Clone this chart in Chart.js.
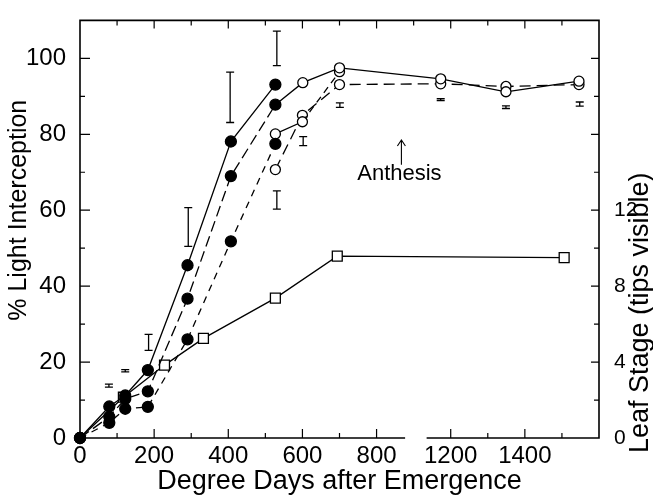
<!DOCTYPE html>
<html>
<head>
<meta charset="utf-8">
<script src="https://cdn.jsdelivr.net/npm/chart.js@4.4.1/dist/chart.umd.min.js"></script>
<style>
  body { margin: 0; background: #fff; }
</style>
</head>
<body>
<canvas id="chart" width="653" height="498"></canvas>
<script>
// degree days; the x axis is broken, values above 1000 are drawn 200 units to the left
const filledX = [0, 79, 122, 183, 290, 407, 527];
const solidFilled = [0, 8.3, 11.2, 17.9, 45.5, 78.1, 93.1];
const longDashFilled = [0, 5.6, 10.3, 12.3, 36.7, 69.0, 87.8];
const shortDashFilled = [0, 4.0, 7.7, 8.2, 26.0, 51.8, 77.5];

const openAX = [527, 601, 700, 1173, 1349, 1546];
const openA = [87.8, 93.6, 97.5, 94.6, 91.2, 94.0];
const openBX = [527, 600, 700];
const openB = [80.1, 83.3, 96.5];
const openCX = [527, 600, 700, 1173, 1349, 1546];
const openC = [70.7, 85.0, 93.1, 93.3, 92.6, 93.1];

// leaf stage, right axis
const leafX = [0, 117, 228, 333, 527, 694, 1506];
const leafStage = [0, 2.15, 3.84, 5.25, 7.37, 9.58, 9.5];

// error bars
const errX = [78, 122, 185, 292, 405, 531, 531, 602, 701, 1173, 1349, 1548];
const errLo = [13.4, 17.4, 23.1, 50.5, 83.1, 98.1, 60.3, 77.0, 87.1, 88.9, 86.8, 87.4];
const errHi = [14.2, 18.0, 27.3, 60.7, 96.4, 107.2, 65.1, 79.4, 88.3, 89.4, 87.5, 88.5];

const xTickLabels = ['0', '200', '400', '600', '800', '1200', '1400'];
const anthesisX = 867;

const FONT = 'Liberation Sans';
const toAxis = v => v > 1000 ? v - 200 : v;
const pts = (xs, ys) => xs.map((x, i) => ({ x: toAxis(x), y: ys[i] }));

function lineSet(data, opts) {
    return Object.assign({
        data: data,
        showLine: true,
        borderColor: '#000',
        borderWidth: 1.3,
        pointBorderColor: '#000',
        pointBorderWidth: 1.3,
        clip: false
    }, opts);
}

function vText(ctx, text, px, py, size) {
    ctx.save();
    ctx.font = size + 'px "' + FONT + '"';
    ctx.textAlign = 'center';
    ctx.textBaseline = 'middle';
    ctx.translate(px, py);
    ctx.rotate(-Math.PI / 2);
    ctx.fillText(text, 0, 0);
    ctx.restore();
}

const axisDeco = {
    id: 'axisDeco',
    afterDatasetsDraw(chart) {
        const { ctx, chartArea: a, scales: { x, y, y2 } } = chart;
        ctx.save();
        ctx.strokeStyle = '#000';
        ctx.fillStyle = '#000';
        ctx.lineWidth = 1.6;
        // frame, bottom axis broken between 800 and 1200
        ctx.beginPath();
        ctx.moveTo(a.left, a.bottom);
        ctx.lineTo(a.left, a.top);
        ctx.lineTo(a.right, a.top);
        ctx.lineTo(a.right, a.bottom);
        ctx.lineTo(x.getPixelForValue(935), a.bottom);
        ctx.moveTo(x.getPixelForValue(877), a.bottom);
        ctx.lineTo(a.left, a.bottom);
        ctx.stroke();

        // inward ticks
        ctx.lineWidth = 1.2;
        ctx.beginPath();
        for (let v = 100; v < 1400; v += 100) {
            const px = x.getPixelForValue(v);
            const big = v % 200 === 0;
            ctx.moveTo(px, a.top);
            ctx.lineTo(px, a.top + (big ? 8 : 5));
            if (v !== 900) {
                ctx.moveTo(px, a.bottom);
                ctx.lineTo(px, a.bottom - (big ? 9 : 5));
            }
        }
        for (let v = 10; v <= 100; v += 10) {
            const py = y.getPixelForValue(v);
            ctx.moveTo(a.left, py);
            ctx.lineTo(a.left + (v % 20 === 0 ? 10 : 5), py);
        }
        for (let v = 2; v <= 20; v += 2) {
            const py = y2.getPixelForValue(v);
            ctx.moveTo(a.right, py);
            ctx.lineTo(a.right - (v % 4 === 0 ? 8 : 5), py);
        }
        ctx.stroke();

        // error bars
        ctx.lineWidth = 1.3;
        ctx.beginPath();
        errX.forEach((ev, i) => {
            const px = x.getPixelForValue(toAxis(ev));
            const p1 = y.getPixelForValue(errLo[i]);
            const p2 = y.getPixelForValue(errHi[i]);
            ctx.moveTo(px, p1); ctx.lineTo(px, p2);
            ctx.moveTo(px - 4, p1); ctx.lineTo(px + 4, p1);
            ctx.moveTo(px - 4, p2); ctx.lineTo(px + 4, p2);
        });
        ctx.stroke();

        // anthesis marker
        const ax = x.getPixelForValue(anthesisX);
        const ay1 = y.getPixelForValue(72);
        const ay2 = y.getPixelForValue(78.5);
        ctx.lineWidth = 1.1;
        ctx.beginPath();
        ctx.moveTo(ax, ay1); ctx.lineTo(ax, ay2);
        ctx.moveTo(ax - 4, ay2 + 6); ctx.lineTo(ax, ay2); ctx.lineTo(ax + 4, ay2 + 6);
        ctx.stroke();
        ctx.font = '22px "' + FONT + '"';
        ctx.textAlign = 'center';
        ctx.textBaseline = 'middle';
        ctx.fillText('Anthesis', ax - 2, y.getPixelForValue(69.6));

        // axis titles read bottom to top
        vText(ctx, '% Light Interception', 19, y.getPixelForValue(60), 25);
        vText(ctx, 'Leaf Stage (tips visible)', a.right + 42, y2.getPixelForValue(6.6), 27);
        ctx.restore();
    }
};

new Chart(document.getElementById('chart'), {
    type: 'scatter',
    data: {
        datasets: [
            lineSet(pts(filledX, solidFilled), { pointRadius: 5.5, pointBackgroundColor: '#000' }),
            lineSet(pts(filledX, longDashFilled), { pointRadius: 5.5, pointBackgroundColor: '#000', borderDash: [11, 5] }),
            lineSet(pts(filledX, shortDashFilled), { pointRadius: 5.5, pointBackgroundColor: '#000', borderDash: [7, 6] }),
            lineSet(pts(openAX, openA), { pointRadius: [0, 5, 5, 5, 5, 5], pointBackgroundColor: '#fff' }),
            lineSet(pts(openBX, openB), {
                pointRadius: 5, pointBackgroundColor: '#fff',
                segment: { borderDash: c => c.p0DataIndex >= 1 ? [7, 5] : undefined }
            }),
            lineSet(pts(openCX, openC), { pointRadius: 5, pointBackgroundColor: '#fff', borderDash: [11, 6] }),
            lineSet(pts(leafX, leafStage), {
                yAxisID: 'y2', pointStyle: 'rect', pointRadius: [0, 7, 7, 7, 7, 7, 7],
                pointBackgroundColor: '#fff'
            })
        ]
    },
    options: {
        responsive: false,
        animation: false,
        devicePixelRatio: 1,
        layout: { padding: { top: 16, right: 0, bottom: 0, left: 0 } },
        plugins: { legend: { display: false }, tooltip: { enabled: false } },
        scales: {
            x: {
                type: 'linear', min: 0, max: 1400,
                grid: { display: false }, border: { display: false },
                ticks: {
                    stepSize: 200, autoSkip: false, maxRotation: 0, padding: -4,
                    color: '#000', font: { family: FONT, size: 24 },
                    callback: v => xTickLabels[v / 200] || ''
                },
                title: {
                    display: true, text: 'Degree Days after Emergence', color: '#000',
                    font: { family: FONT, size: 27 }, padding: { top: 0, bottom: 0 }
                },
                afterFit: s => { s.height = 60; }
            },
            y: {
                min: 0, max: 110,
                grid: { display: false }, border: { display: false },
                ticks: {
                    stepSize: 20, padding: 6, color: '#000', font: { family: FONT, size: 24 },
                    callback: v => (v % 20 === 0 && v <= 100) ? v : ''
                },
                afterFit: s => { s.width = 80; }
            },
            y2: {
                position: 'right', min: 0, max: 22,
                grid: { display: false }, border: { display: false },
                ticks: {
                    stepSize: 4, padding: 7, color: '#000', font: { family: FONT, size: 21 },
                    callback: v => (v % 4 === 0 && v <= 12) ? v : ''
                },
                afterFit: s => { s.width = 54; }
            }
        }
    },
    plugins: [axisDeco]
});
</script>
</body>
</html>
